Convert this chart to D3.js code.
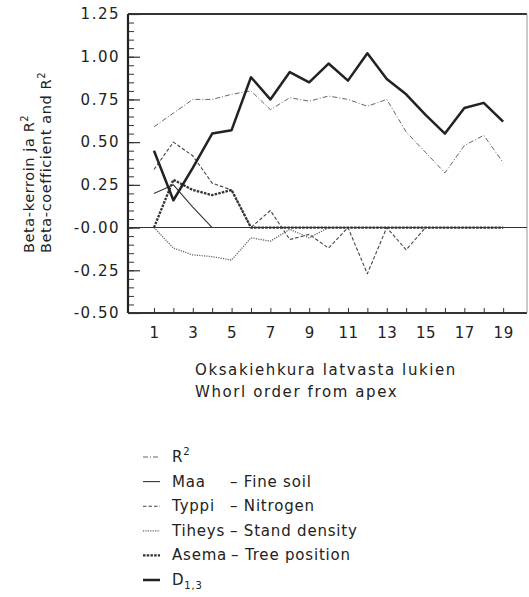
<!DOCTYPE html>
<html>
<head>
<meta charset="utf-8">
<script src="https://cdn.jsdelivr.net/npm/d3@7"></script>
<style>
body { margin: 0; background: #fff; }
text { font-family: "DejaVu Sans", sans-serif; fill: #222; }
</style>
</head>
<body>
<figure id="chart" style="margin:0"></figure>
<script>
// Data (whorl 1..19)
const whorls = d3.range(1, 20);
const r2     = [0.59, 0.67, 0.75, 0.75, 0.78, 0.80, 0.69, 0.76, 0.74, 0.77, 0.75, 0.71, 0.75, 0.56, 0.44, 0.32, 0.48, 0.54, 0.38];
const maa    = [0.20, 0.25, 0.12, 0.00, null, null, null, null, null, null, null, null, null, null, null, null, null, null, null];
const typpi  = [0.34, 0.50, 0.42, 0.26, 0.22, 0.00, 0.10, -0.07, -0.04, -0.12, 0.00, -0.27, 0.00, -0.13, 0.00, 0.00, 0.00, 0.00, 0.00];
const tiheys = [0.00, -0.12, -0.16, -0.17, -0.19, -0.06, -0.08, -0.01, -0.06, 0.00, 0.00, 0.00, 0.00, 0.00, 0.00, 0.00, 0.00, 0.00, 0.00];
const asema  = [0.00, 0.28, 0.22, 0.19, 0.22, 0.00, 0.00, 0.00, 0.00, 0.00, 0.00, 0.00, 0.00, 0.00, 0.00, 0.00, 0.00, 0.00, 0.00];
const d13    = [0.45, 0.16, 0.35, 0.55, 0.57, 0.88, 0.75, 0.91, 0.85, 0.96, 0.86, 1.02, 0.87, 0.78, 0.66, 0.55, 0.70, 0.73, 0.62];

const yMajor = [-0.5, -0.25, 0, 0.25, 0.5, 0.75, 1.0, 1.25];
const xLabels = [1, 3, 5, 7, 9, 11, 13, 15, 17, 19];

const legendNames = ["R", "Maa", "Typpi", "Tiheys", "Asema", "D"];
const legendDescs = ["", "– Fine soil", "– Nitrogen", "– Stand density", "– Tree position", ""];

// line styles, same order as legend
const series = [
    { values: r2,     width: 0.9, dash: "5,2,1,2", color: "#555" },
    { values: maa,    width: 1.1, dash: null,      color: "#333" },
    { values: typpi,  width: 1.1, dash: "3.5,2",   color: "#444" },
    { values: tiheys, width: 1.3, dash: "1.2,1.2", color: "#666" },
    { values: asema,  width: 2.3, dash: "2.5,1.2", color: "#333" },
    { values: d13,    width: 2.5, dash: null,      color: "#222" },
];

let dimensions = {
    width: 529,
    height: 597,
    margin: { top: 14, left: 128 },
    boundedWidth: 399,
    boundedHeight: 299,
};

var svg = d3.select("figure#chart")
    .append("svg")
    .attr("width", dimensions.width)
    .attr("height", dimensions.height);

var g = svg.append("g")
    .attr("transform", `translate(${dimensions.margin.left}, ${dimensions.margin.top})`);

var xScale = d3.scaleLinear()
    .domain([-0.34, 20.23])
    .range([0, dimensions.boundedWidth]);

var yScale = d3.scaleLinear()
    .domain([-0.5, 1.25])
    .range([dimensions.boundedHeight, 0]);

// minor y ticks every 0.05
g.append("g")
    .call(d3.axisLeft(yScale).tickValues(d3.range(-10, 26).map(i => i * 0.05)).tickSize(-6).tickFormat(""))
    .call(a => a.select(".domain").remove())
    .selectAll("line").attr("stroke", "#333").attr("stroke-width", 1);

// major y ticks with labels
var yAxis = g.append("g")
    .call(d3.axisLeft(yScale).tickValues(yMajor).tickSize(-12).tickPadding(8)
        .tickFormat(d => (d <= 0 ? "-" : "") + Math.abs(d).toFixed(2)))
    .call(a => a.select(".domain").remove());
yAxis.selectAll("line").attr("stroke", "#333").attr("stroke-width", 1.2);
yAxis.selectAll("text")
    .attr("font-size", 15)
    .attr("letter-spacing", 1.5)
    .attr("fill", "#222");

// x ticks at every whorl, labels on odd ones
var xAxis = g.append("g")
    .attr("transform", `translate(0, ${dimensions.boundedHeight})`)
    .call(d3.axisBottom(xScale).tickValues(whorls).tickSize(-5).tickPadding(14)
        .tickFormat(d => xLabels.includes(d) ? d : ""))
    .call(a => a.select(".domain").remove());
xAxis.selectAll("line").attr("stroke", "#333").attr("stroke-width", 1);
xAxis.selectAll("text")
    .attr("font-size", 15)
    .attr("letter-spacing", 0.5)
    .attr("fill", "#222");

// frame
g.append("line").attr("x1", 0).attr("x2", 0).attr("y1", 0).attr("y2", dimensions.boundedHeight)
    .attr("stroke", "#222").attr("stroke-width", 2.2);
g.append("line").attr("x1", 0).attr("x2", dimensions.boundedWidth).attr("y1", 0).attr("y2", 0)
    .attr("stroke", "#333").attr("stroke-width", 1.8);
g.append("line").attr("x1", 0).attr("x2", dimensions.boundedWidth)
    .attr("y1", dimensions.boundedHeight).attr("y2", dimensions.boundedHeight)
    .attr("stroke", "#333").attr("stroke-width", 1.8);
g.append("line").attr("x1", dimensions.boundedWidth).attr("x2", dimensions.boundedWidth)
    .attr("y1", 0).attr("y2", dimensions.boundedHeight)
    .attr("stroke", "#999").attr("stroke-width", 1);

// zero line
g.append("line").attr("x1", 0).attr("x2", dimensions.boundedWidth)
    .attr("y1", yScale(0)).attr("y2", yScale(0))
    .attr("stroke", "#333").attr("stroke-width", 1.1);

var line = d3.line()
    .defined(d => d[1] != null)
    .x(d => xScale(d[0]))
    .y(d => yScale(d[1]));

series.forEach(s => {
    g.append("path")
        .datum(whorls.map((w, i) => [w, s.values[i]]))
        .attr("fill", "none")
        .attr("stroke", s.color)
        .attr("stroke-width", s.width)
        .attr("stroke-dasharray", s.dash)
        .attr("stroke-linejoin", "round")
        .attr("d", line);
});

// y title (two rotated lines)
var yTitle = svg.append("g").attr("font-size", 14.5).attr("letter-spacing", 0.6);
[["Beta-kerroin ja R", 34], ["Beta-coefficient and R", 51]].forEach(([t, x]) => {
    var txt = yTitle.append("text")
        .attr("transform", `translate(${x}, 253) rotate(-90)`)
        .text(t);
    txt.append("tspan").attr("dy", -6).attr("font-size", 10).text("2");
});

// x title
var xTitle = svg.append("g").attr("font-size", 15).attr("letter-spacing", 1.6);
xTitle.append("text").attr("x", 195).attr("y", 375).text("Oksakiehkura latvasta lukien");
xTitle.append("text").attr("x", 195).attr("y", 397).text("Whorl order from apex");

// legend
var legend = svg.append("g").attr("font-size", 15).attr("letter-spacing", 0.8);
series.forEach((s, i) => {
    let y = 462 + i * 24.6;
    legend.append("line")
        .attr("x1", 143).attr("x2", 160)
        .attr("y1", y - 5).attr("y2", y - 5)
        .attr("stroke", s.color)
        .attr("stroke-width", s.width)
        .attr("stroke-dasharray", s.dash);
    let name = legend.append("text").attr("x", 172).attr("y", y).text(legendNames[i]);
    if (i === 0) name.append("tspan").attr("dy", -7).attr("font-size", 10).text("2");
    if (i === 5) name.append("tspan").attr("dy", 4).attr("font-size", 10).text("1,3");
    if (legendDescs[i]) {
        let w = name.node().getComputedTextLength();
        legend.append("text")
            .attr("x", Math.max(230, 172 + w + 4))
            .attr("y", y)
            .text(legendDescs[i]);
    }
});
</script>
</body>
</html>
